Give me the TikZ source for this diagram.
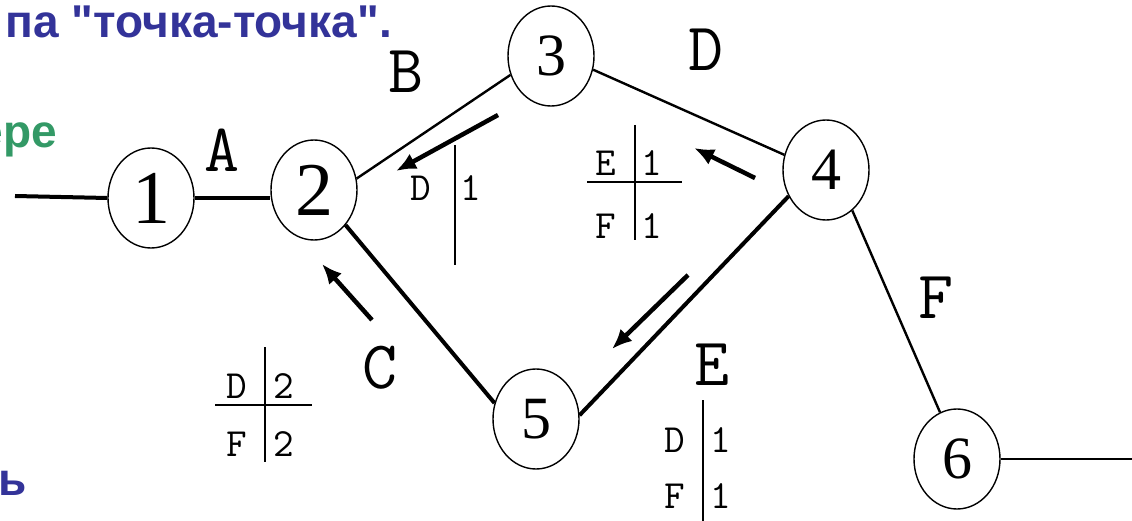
\documentclass[tikz,border=0pt]{standalone}
\usepackage{fontspec}
\usepackage{tikz}
\usetikzlibrary{shapes.geometric,arrows.meta}
\newfontfamily\slidefont{Liberation Sans}
\newfontfamily\numfont{Liberation Serif}
\definecolor{slideblue}{RGB}{51,51,153}
\definecolor{slidegreen}{RGB}{51,153,102}

\tikzset{
  router/.style={draw,ellipse,line width=1.4pt,inner sep=0pt,
    minimum width=86pt,minimum height=100pt,
    font=\numfont\fontsize{60}{60}\selectfont},
  linkname/.style={font=\ttfamily\fontsize{68}{68}\selectfont},
  entry/.style={font=\ttfamily\fontsize{40}{40}\selectfont},
  slidetext/.style={anchor=base east,inner sep=0pt,
    font=\slidefont\bfseries\fontsize{46}{46}\selectfont},
  thin link/.style={line width=2.4pt},
  thick link/.style={line width=4pt},
  route/.style={line width=4.5pt,-{Latex[length=20pt,width=17pt]}},
  tabline/.style={line width=2pt}
}

\begin{document}
\begin{tikzpicture}[x=1pt,y=-1pt]
  \useasboundingbox (0,0) rectangle (1132,521);

  % slide text, cut at the left edge
  \node[slidetext,text=slideblue] (title) at (392,38) {па "точка-точка".};
  \node[slidetext,text=slidegreen] (note) at (57,148) {ере};
  \node[slidetext,text=slideblue] (tail) at (27,495) {ь};

  % routers
  \node[router,font=\numfont\fontsize{76}{76}\selectfont] (n1) at (151,198) {1};
  \node[router,font=\numfont\fontsize{76}{76}\selectfont] (n2) at (314,190) {2};
  \node[router] (n3) at (551,56) {3};
  \node[router] (n4) at (826,170) {4};
  \node[router] (n5) at (536,419) {5};
  \node[router] (n6) at (957,459) {6};

  \coordinate (in) at (15,196);
  \coordinate (out) at (1132,462);

  % links
  \draw[thick link] (in) -- (n1.west);
  \draw[thick link] (n1.east) -- (n2.west |- n1.east);
  \draw[thin link] (n2.15) -- (n3.205);
  \draw[thin link] (n3.342) -- (n4.160);
  \draw[thick link] (n2.312) -- (n5.159);
  \draw[thick link] (n4.215) -- (n5.5);
  \draw[thin link] (n4.303) -- (n6.110);
  \draw[thin link] (n6.east) -- (n6.east -| out);

  % link names
  \node[linkname] (lA) at (222,150) {A};
  \node[linkname] (lB) at (406,72) {B};
  \node[linkname] (lC) at (380,368) {C};
  \node[linkname] (lD) at (706,50) {D};
  \node[linkname] (lE) at (712,365) {E};
  \node[linkname] (lF) at (936,298) {F};

  % advertised routes
  \coordinate (b1) at (498,115); \coordinate (b2) at (396,171);
  \coordinate (d1) at (755,178); \coordinate (d2) at (694,148);
  \coordinate (c1) at (372,320); \coordinate (c2) at (322,264);
  \coordinate (e1) at (688,275); \coordinate (e2) at (612,349);
  \draw[route] (b1) -- (b2);
  \draw[route] (d1) -- (d2);
  \draw[route] (c1) -- (c2);
  \draw[route] (e1) -- (e2);

  % tables
  \draw[tabline] (455,145) -- (455,265);
  \node[entry] (t1d) at (421,188) {D};
  \node[entry] (t1v) at (471,188) {1};

  \draw[tabline] (635,125) -- (635,240);
  \draw[tabline] (587,182) -- (682,182);
  \node[entry] (t2e) at (606,163) {E};
  \node[entry] (t2a) at (652,163) {1};
  \node[entry] (t2f) at (606,226) {F};
  \node[entry] (t2b) at (652,226) {1};

  \draw[tabline] (265,347) -- (265,462);
  \draw[tabline] (215,405) -- (312,405);
  \node[entry] (t3d) at (237,386) {D};
  \node[entry] (t3a) at (284,386) {2};
  \node[entry] (t3f) at (237,444) {F};
  \node[entry] (t3b) at (284,444) {2};

  \draw[tabline] (703,400) -- (703,521);
  \node[entry] (t4d) at (675,440) {D};
  \node[entry] (t4a) at (721,440) {1};
  \node[entry] (t4f) at (675,496) {F};
  \node[entry] (t4b) at (721,496) {1};
\end{tikzpicture}
\end{document}
